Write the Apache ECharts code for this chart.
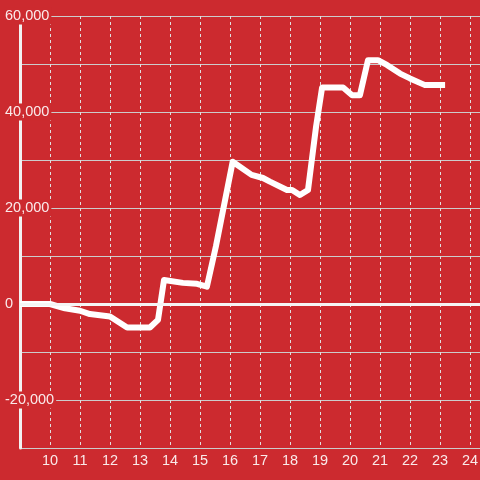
<!DOCTYPE html>
<html>
<head>
<meta charset="utf-8">
<script src="https://cdn.jsdelivr.net/npm/echarts@6/dist/echarts.min.js"></script>
<style>
  html, body { margin: 0; padding: 0; background: #cc2a2f; }
  #chart { width: 480px; height: 480px; }
</style>
</head>
<body>
<div id="chart"></div>
<script>
// hour of day -> running total
var hours = [9, 10, 10.5, 11, 11.33, 12, 12.57, 13.33, 13.6, 13.8, 14.43, 14.9, 15.23, 15.53,
  16.09, 16.72, 17.1, 17.33, 17.9, 18.07, 18.33, 18.6, 18.87, 19.07, 19.77, 20.07, 20.33,
  20.6, 20.93, 21.23, 21.67, 22, 22.5, 23.17];
var totals = [0, 0, -900, -1400, -2100, -2600, -4900, -4900, -3300, 5000, 4400, 4200, 3600, 12000,
  29650, 26900, 26250, 25500, 23750, 23750, 22700, 23750, 37000, 45100, 45100, 43500, 43500,
  50800, 50800, 49800, 48000, 47000, 45600, 45600];
var yTicks = [-20000, 0, 20000, 40000, 60000];

var bg = "#cc2a2f";
var chart = echarts.init(document.getElementById("chart"));

chart.setOption({
  backgroundColor: bg,
  animation: false,
  // plot runs past the right edge so hour 25 falls just outside the canvas
  grid: { left: 20, right: -20, top: 16, bottom: 32, outerBoundsMode: "none" },
  xAxis: {
    type: "value",
    min: 9,
    max: 25,
    interval: 1,
    axisLine: { show: false },
    axisTick: { show: false },
    axisLabel: {
      color: "rgba(255,255,255,0.9)",
      fontSize: 14.5,
      fontFamily: "Liberation Sans",
      margin: 5,
      formatter: function (v) {
        return (v > 9 && v < 25) ? String(v) : "";
      }
    },
    splitLine: {
      show: true,
      lineStyle: { color: "#e0e0e0", width: 1, type: [3, 3] }
    }
  },
  yAxis: {
    type: "value",
    min: -30000,
    max: 60000,
    interval: 10000,
    axisLine: { show: true, lineStyle: { color: "#f2f2f2", width: 3 } },
    axisTick: { show: false },
    axisLabel: {
      color: "rgba(255,255,255,0.9)",
      fontSize: 14.5,
      fontFamily: "Liberation Sans",
      align: "left",
      margin: 15,
      backgroundColor: bg,
      padding: [1, 2, 1, 0],
      formatter: function (v) {
        return yTicks.indexOf(v) >= 0 ? v.toLocaleString("en-US") : "";
      }
    },
    splitLine: { show: true, lineStyle: { color: "#cccccc", width: 1 } }
  },
  series: [{
    type: "line",
    data: hours.map(function (h, i) { return [h, totals[i]]; }),
    symbol: "none",
    lineStyle: { color: "#ffffff", width: 6, join: "round" },
    markLine: {
      silent: true,
      symbol: "none",
      label: { show: false },
      lineStyle: { color: "#f5f5f5", width: 3, type: "solid" },
      data: [{ yAxis: 0 }]
    }
  }]
});
</script>
</body>
</html>
